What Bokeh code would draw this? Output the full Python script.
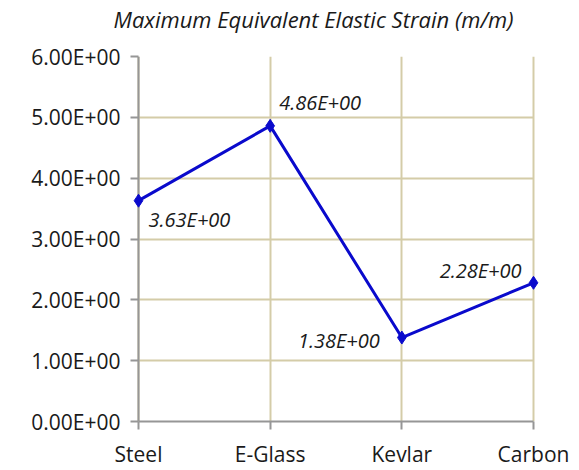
from bokeh.plotting import figure
from bokeh.models import FixedTicker, ColumnDataSource, Range1d, Span
from bokeh.core.properties import value
from bokeh.embed import file_html
from bokeh.resources import INLINE

categories = ["Steel", "E-Glass", "Kevlar", "Carbon"]
strain = [3.63, 4.86, 1.38, 2.28]
y_ticks = [0, 1, 2, 3, 4, 5, 6]
title_text = "Maximum Equivalent Elastic Strain (m/m)"

# label placement (style only)
lbl_xoff = [10, 9, -22, -12]
lbl_yoff = [19, -23, 3, -12]
lbl_align = ["left", "left", "right", "right"]

FONT = "Open Sans"
TXT = "#1a1a1a"
GRID = "#d4cca8"
AXIS = "#969696"
BLUE = "#0a0acc"

xs = list(range(len(categories)))
n = len(categories) - 1
pad = 6 / (395 / n)  # a few pixels so end markers are not clipped

p = figure(width=579, height=470, output_backend="svg", toolbar_location=None,
           x_range=Range1d(-pad, n + pad), y_range=Range1d(0, 6),
           min_border_left=132, min_border_right=40, min_border_top=56, min_border_bottom=46)
p.outline_line_color = None
p.background_fill_color = "white"

p.title.text = title_text
p.title.text_font = FONT
p.title.text_font_style = "italic"
p.title.text_font_size = "22px"
p.title.text_color = TXT
p.title.align = "left"
p.title.offset = -19
p.title.vertical_align = "bottom"
try:
    p.title.padding = dict(left=0, right=0, top=0, bottom=23)
    p.title.standoff = 0
except Exception:
    p.title.standoff = 25

p.xaxis.ticker = FixedTicker(ticks=xs)
p.xaxis.major_label_overrides = {i: c for i, c in enumerate(categories)}
p.xaxis.bounds = (0, n)
p.yaxis.ticker = FixedTicker(ticks=y_ticks)
p.yaxis.major_label_overrides = {t: f"{t:.2E}" for t in y_ticks}

for ax in (p.xaxis[0], p.yaxis[0]):
    ax.axis_line_color = AXIS
    ax.axis_line_width = 2
    ax.major_tick_line_color = AXIS
    ax.major_tick_line_width = 2
    ax.major_tick_out = 8
    ax.major_tick_in = 0
    ax.minor_tick_line_color = None
    ax.major_label_text_font = FONT
    ax.major_label_text_font_size = "21px"
    ax.major_label_text_color = TXT
p.xaxis.major_label_standoff = 10
# y axis line is drawn at x = 0 (Span); ticks cross to it
p.yaxis.axis_line_color = None
p.yaxis.major_tick_out = 2
p.yaxis.major_tick_in = 6
p.yaxis.major_label_standoff = 10

p.xgrid.ticker = FixedTicker(ticks=xs)
p.ygrid.ticker = FixedTicker(ticks=y_ticks)
p.grid.grid_line_color = GRID
p.grid.grid_line_width = 2
if "cross_bounds" in p.ygrid[0].properties():
    p.ygrid[0].cross_bounds = (0, n)

p.add_layout(Span(location=0, dimension="height", line_color=AXIS, line_width=2, level="underlay"))

src = ColumnDataSource(dict(x=xs, y=strain,
                            label=[f"{v:.2E}" for v in strain],
                            xo=lbl_xoff, yo=lbl_yoff, al=lbl_align))
p.line("x", "y", source=src, line_color=BLUE, line_width=3)
p.scatter("x", "y", source=src, marker="diamond", size=13, fill_color=BLUE, line_color=BLUE)
p.text("x", "y", text="label", source=src, x_offset="xo", y_offset="yo", text_align="al",
       text_baseline="middle", text_font=value(FONT), text_font_style="italic",
       text_font_size="20px", text_color=TXT)

open("out.html", "w").write(file_html(p, INLINE))
